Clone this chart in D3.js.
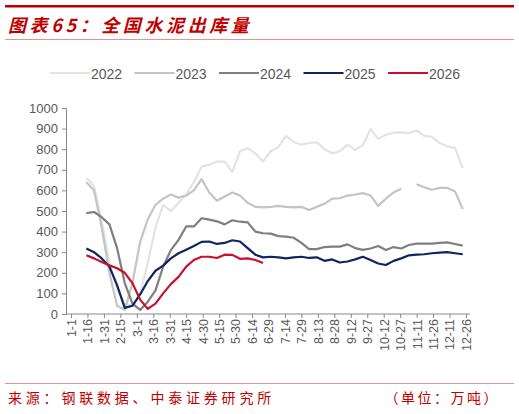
<!DOCTYPE html>
<html>
<head>
<meta charset="utf-8">
<script src="https://cdn.jsdelivr.net/npm/d3@7"></script>
<style>
  body { margin: 0; background: #fff; }
  svg { display: block; }
</style>
</head>
<body>
<svg id="chart" width="519" height="414"></svg>
<script>
// days from 1-1, weekly points
const days = d3.range(14, 358, 7)
const tickLabels = ["1-1","1-16","1-31","2-15","3-1","3-16","3-31","4-15","4-30","5-15","5-30","6-14","6-29",
  "7-14","7-29","8-13","8-28","9-12","9-27","10-12","10-27","11-11","11-26","12-11","12-26"]
const years = ["2022", "2023", "2024", "2025", "2026"]
const colors = ["#e3e3e3", "#c4c4c4", "#7f7f7f", "#0c2660", "#c8102e"]

const v2022 = [660,620,450,250,120,50,40,100,250,420,530,500,540,580,640,715,725,740,740,690,790,805,780,740,790,810,865,835,822,830,833,800,780,790,822,797,820,898,850,870,880,882,878,890,865,860,830,814,805,708]
const v2023 = [640,600,420,200,40,20,150,350,460,530,560,580,565,575,600,655,590,550,570,590,575,540,520,518,520,525,520,518,520,505,520,535,560,562,575,580,587,575,525,560,590,608,null,630,615,603,612,612,595,509]
const v2024 = [490,495,470,435,320,150,50,20,60,115,230,310,360,425,425,465,458,450,435,455,448,445,400,392,390,378,376,370,345,315,315,325,327,327,338,320,311,318,330,311,325,318,335,342,342,342,345,348,340,332]
const v2025 = [318,300,270,230,140,30,40,95,160,210,235,270,295,312,330,350,352,340,345,358,352,320,288,275,278,275,270,275,278,272,275,258,265,250,255,265,278,262,245,238,258,270,285,288,290,295,298,300,295,290]
const v2026 = [285,270,252,236,222,200,150,70,25,50,100,145,180,230,262,278,278,272,288,287,268,270,262,248]
const series = [v2022, v2023, v2024, v2025, v2026]

const red = "#c00000"
const svg = d3.select("#chart")

// header
svg.append("rect").attr("x", 5).attr("y", 5).attr("width", 509).attr("height", 2.5).attr("fill", red)
svg.append("text").attr("x", 8).attr("y", 32)
  .attr("font-family", "Noto Sans CJK SC").attr("font-size", 18).attr("font-weight", "bold")
  .attr("font-style", "italic").attr("letter-spacing", 3.6).attr("fill", red).text("图表65：全国水泥出库量")
svg.append("line").attr("x1", 5).attr("x2", 514).attr("y1", 39.5).attr("y2", 39.5)
  .attr("stroke", "#d77").attr("stroke-width", 0.8)

// footer
svg.append("line").attr("x1", 5).attr("x2", 514).attr("y1", 383.5).attr("y2", 383.5)
  .attr("stroke", "#d77").attr("stroke-width", 0.8)
svg.append("text").attr("x", 8).attr("y", 403).attr("font-family", "Noto Sans CJK SC")
  .attr("font-size", 14).attr("letter-spacing", 3.8).attr("fill", red).text("来源：钢联数据、中泰证券研究所")
svg.append("text").attr("x", 500).attr("y", 403).attr("text-anchor", "end").attr("font-family", "Noto Sans CJK SC")
  .attr("font-size", 14).attr("letter-spacing", 2.5).attr("fill", red).text("（单位：万吨）")

// plot
const x = d3.scaleLinear().domain([0, 360]).range([71, 466])
const y = d3.scaleLinear().domain([0, 1000]).range([314, 108])
const font = "Liberation Sans, Arial, sans-serif"

const yAxis = svg.append("g").attr("transform", "translate(66,0)")
  .call(d3.axisLeft(y).tickValues(d3.range(0, 1001, 100)).tickFormat(d3.format("d")).tickSize(4).tickPadding(4))
yAxis.selectAll("text").attr("font-family", font).attr("font-size", 13).attr("fill", "#595959")
yAxis.selectAll("line,path").attr("stroke", "#888")

const xAxis = svg.append("g").attr("transform", "translate(0,314)")
  .call(d3.axisBottom(x).tickValues(d3.range(0, 361, 15)).tickFormat((d, i) => tickLabels[i]).tickSize(4))
xAxis.select("path").attr("d", "M66,0H470").attr("stroke", "#888")
xAxis.selectAll("line").attr("stroke", "#888")
xAxis.selectAll("text").attr("font-family", font).attr("font-size", 12.5).attr("fill", "#595959")
  .attr("transform", "rotate(-90)").attr("text-anchor", "end").attr("dx", "-5").attr("y", 0).attr("x", 0)
  .attr("dy", "0.35em")

const line = d3.line().defined(d => d[1] != null).x(d => x(d[0])).y(d => y(d[1]))
series.forEach((vals, i) => {
  svg.append("path").datum(vals.map((v, j) => [days[j], v]))
    .attr("d", line).attr("fill", "none").attr("stroke", colors[i])
    .attr("stroke-width", 2.2).attr("stroke-linejoin", "round")
})

// legend
const lg = svg.append("g")
years.forEach((yr, i) => {
  const lx = 50 + i * 84.5
  lg.append("line").attr("x1", lx).attr("x2", lx + 40).attr("y1", 73).attr("y2", 73)
    .attr("stroke", colors[i]).attr("stroke-width", 2.2)
  lg.append("text").attr("x", lx + 41).attr("y", 78.5).attr("font-family", font)
    .attr("font-size", 14).attr("fill", "#595959").text(yr)
})
</script>
</body>
</html>
